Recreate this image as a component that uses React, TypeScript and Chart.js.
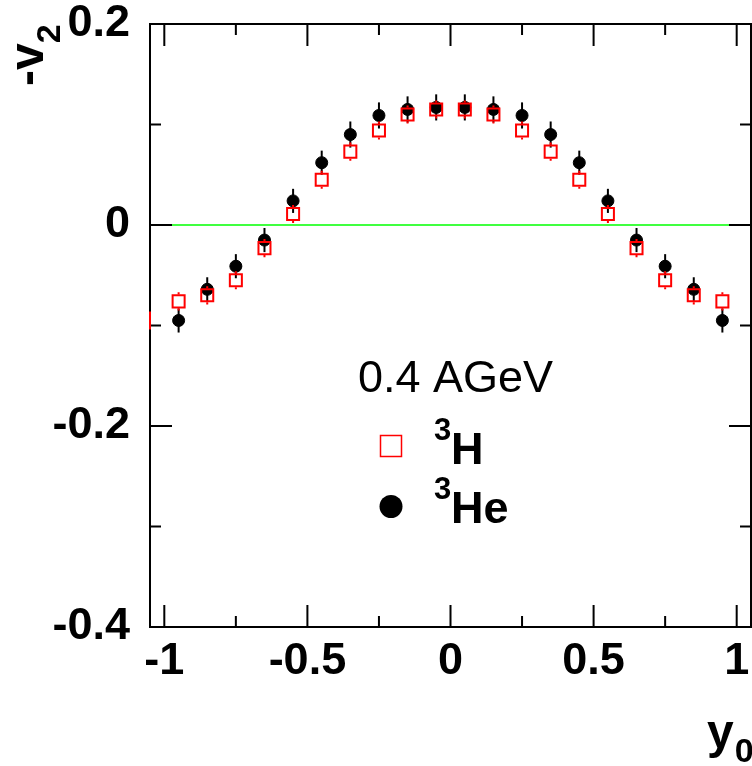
import React, { useEffect, useRef } from 'react';
import { Chart, registerables } from 'chart.js';

Chart.register(...registerables);

// ---- data ----
const rapidityH = [-1.05, -0.95, -0.85, -0.75, -0.65, -0.55, -0.45, -0.35, -0.25, -0.15, -0.05, 0.05, 0.15, 0.25, 0.35, 0.45, 0.55, 0.65, 0.75, 0.85, 0.95];
const v2H = [-0.095, -0.076, -0.070, -0.055, -0.023, 0.011, 0.045, 0.073, 0.094, 0.110, 0.115, 0.115, 0.110, 0.094, 0.073, 0.045, 0.011, -0.023, -0.055, -0.070, -0.076];
const errH = [0.009, 0.009, 0.009, 0.009, 0.009, 0.009, 0.009, 0.009, 0.009, 0.009, 0.009, 0.009, 0.009, 0.009, 0.009, 0.009, 0.009, 0.009, 0.009, 0.009, 0.009];

const rapidityHe = [-0.95, -0.85, -0.75, -0.65, -0.55, -0.45, -0.35, -0.25, -0.15, -0.05, 0.05, 0.15, 0.25, 0.35, 0.45, 0.55, 0.65, 0.75, 0.85, 0.95];
const v2He = [-0.095, -0.064, -0.041, -0.015, 0.024, 0.062, 0.090, 0.109, 0.115, 0.117, 0.117, 0.115, 0.109, 0.090, 0.062, 0.024, -0.015, -0.041, -0.064, -0.095];
const errHe = [0.012, 0.012, 0.012, 0.012, 0.012, 0.012, 0.013, 0.013, 0.013, 0.013, 0.013, 0.013, 0.013, 0.013, 0.012, 0.012, 0.012, 0.012, 0.012, 0.012];

const xMajorTicks = [-1, -0.5, 0, 0.5, 1];
const xTickLabels = ['-1', '-0.5', '0', '0.5', '1'];
const xMinorTicks = [-0.75, -0.25, 0.25, 0.75];
const yMajorTicks = [-0.4, -0.2, 0, 0.2];
const yTickLabels = ['-0.4', '-0.2', '0', '0.2'];
const yMinorTicks = [-0.3, -0.1, 0.1];

const X_MIN = -1.05;
const X_MAX = 1.05;
const Y_MIN = -0.4;
const Y_MAX = 0.2;

const energyLabel = '0.4 AGeV';
const seriesNames = ['H', 'He'];
const seriesMass = '3';
const yTitle = '-v';
const yTitleSub = '2';
const xTitle = 'y';
const xTitleSub = '0';

const FONT = '"Liberation Sans", Arial, Helvetica, sans-serif';
const RED = '#ff0000';

const errorBars = [errH, errHe];
const isEdge = (x: number) => x <= X_MIN || x >= X_MAX;

const decorPlugin = {
  id: 'decor',
  beforeDatasetsDraw(chart: any) {
    const { ctx, chartArea: a, scales } = chart;
    const y0 = scales.y.getPixelForValue(0);
    ctx.save();
    ctx.strokeStyle = '#00ff00';
    ctx.lineWidth = 1.5;
    ctx.beginPath();
    ctx.moveTo(a.left, y0);
    ctx.lineTo(a.right, y0);
    ctx.stroke();
    ctx.restore();
  },
  beforeDatasetDraw(chart: any, args: any) {
    const { ctx, chartArea: a, scales } = chart;
    const i = args.index;
    const ds = chart.data.datasets[i];
    const errs = errorBars[i];
    const meta = chart.getDatasetMeta(i);
    ctx.save();
    ctx.beginPath();
    ctx.rect(a.left, a.top, a.right - a.left, a.bottom - a.top);
    ctx.clip();
    ctx.strokeStyle = i === 0 ? RED : '#000';
    ctx.lineWidth = 2;
    const gap = i === 0 ? 7 : 0;
    meta.data.forEach((el: any, k: number) => {
      if (isEdge(ds.data[k].x)) return;
      const v = ds.data[k].y;
      const px = el.x;
      const py = el.y;
      const top = scales.y.getPixelForValue(v + errs[k]);
      const bot = scales.y.getPixelForValue(v - errs[k]);
      ctx.beginPath();
      if (gap > 0) {
        ctx.moveTo(px, top);
        ctx.lineTo(px, py - gap);
        ctx.moveTo(px, py + gap);
        ctx.lineTo(px, bot);
      } else {
        ctx.moveTo(px, top);
        ctx.lineTo(px, bot);
      }
      ctx.stroke();
    });
    ctx.restore();
  },
  afterDraw(chart: any) {
    const { ctx, chartArea: a, scales } = chart;
    const xs = scales.x;
    const ys = scales.y;
    ctx.save();
    // frame
    ctx.strokeStyle = '#000';
    ctx.lineWidth = 2;
    ctx.strokeRect(a.left, a.top, a.right - a.left, a.bottom - a.top);
    // ticks (inward, all sides)
    const MAJ = 22;
    const MIN = 11;
    ctx.lineWidth = 2;
    ctx.beginPath();
    const xt = (v: number, len: number) => {
      const p = xs.getPixelForValue(v);
      ctx.moveTo(p, a.bottom);
      ctx.lineTo(p, a.bottom - len);
      ctx.moveTo(p, a.top);
      ctx.lineTo(p, a.top + len);
    };
    const yt = (v: number, len: number) => {
      const p = ys.getPixelForValue(v);
      ctx.moveTo(a.left, p);
      ctx.lineTo(a.left + len, p);
      ctx.moveTo(a.right, p);
      ctx.lineTo(a.right - len, p);
    };
    xMajorTicks.forEach((v) => xt(v, MAJ));
    xMinorTicks.forEach((v) => xt(v, MIN));
    yMajorTicks.forEach((v) => yt(v, MAJ));
    yMinorTicks.forEach((v) => yt(v, MIN));
    ctx.stroke();

    // error bars of points sitting on the frame edge (drawn over the frame)
    chart.data.datasets.forEach((ds: any, i: number) => {
      const errs = errorBars[i];
      ctx.strokeStyle = i === 0 ? RED : '#000';
      ctx.lineWidth = 2;
      ds.data.forEach((p: any, k: number) => {
        if (!isEdge(p.x)) return;
        const px = p.x <= X_MIN ? a.left : a.right;
        ctx.beginPath();
        ctx.moveTo(px, ys.getPixelForValue(p.y + errs[k]));
        ctx.lineTo(px, ys.getPixelForValue(p.y - errs[k]));
        ctx.stroke();
      });
    });

    ctx.fillStyle = '#000';
    ctx.textBaseline = 'alphabetic';
    ctx.textAlign = 'left';

    // y title, rotated
    ctx.save();
    ctx.translate(43, 86);
    ctx.rotate(-Math.PI / 2);
    ctx.font = `bold 48px ${FONT}`;
    ctx.fillText(yTitle, 0, 0);
    const w = ctx.measureText(yTitle).width;
    ctx.font = `bold 34px ${FONT}`;
    ctx.fillText(yTitleSub, w, 17);
    ctx.restore();

    // x title
    ctx.font = `bold 48px ${FONT}`;
    ctx.fillText(xTitle, 707, 748);
    const wx = ctx.measureText(xTitle).width;
    ctx.font = `bold 34px ${FONT}`;
    ctx.fillText(xTitleSub, 707 + wx + 1, 762);

    // energy label
    ctx.font = `45px ${FONT}`;
    ctx.fillText(energyLabel, 358, 392);

    // legend markers
    ctx.strokeStyle = RED;
    ctx.lineWidth = 1.5;
    ctx.strokeRect(380.5, 435.5, 21, 21);
    ctx.fillStyle = '#000';
    ctx.beginPath();
    ctx.arc(391, 506.5, 11.5, 0, Math.PI * 2);
    ctx.fill();

    // legend text
    const rows = [464, 523];
    seriesNames.forEach((name, k) => {
      const base = rows[k];
      ctx.font = `bold 31px ${FONT}`;
      ctx.fillText(seriesMass, 434, base - 24);
      ctx.font = `bold 45px ${FONT}`;
      ctx.fillText(name, 451, base);
    });
    ctx.restore();
  },
};

const noScalePadding = (s: any) => {
  s.paddingTop = 0;
  s.paddingBottom = 0;
  s.paddingLeft = 0;
  s.paddingRight = 0;
};

export default function App() {
  const ref = useRef<HTMLCanvasElement | null>(null);

  useEffect(() => {
    if (!ref.current) return;
    const hideOutside = (size: number) => (c: any) => {
      const raw = c.raw;
      if (raw && isEdge(raw.x)) return 0;
      return size;
    };
    const chart = new Chart(ref.current, {
      type: 'scatter',
      data: {
        datasets: [
          {
            label: '3H',
            data: rapidityH.map((x, i) => ({ x, y: v2H[i] })),
            pointStyle: 'rect',
            pointRadius: hideOutside(8.5),
            pointBackgroundColor: 'rgba(0,0,0,0)',
            pointBorderColor: RED,
            pointBorderWidth: 2,
            showLine: false,
            clip: 0,
          },
          {
            label: '3He',
            data: rapidityHe.map((x, i) => ({ x, y: v2He[i] })),
            pointStyle: 'circle',
            pointRadius: 6,
            pointBackgroundColor: '#000',
            pointBorderColor: '#000',
            pointBorderWidth: 1,
            showLine: false,
            clip: 0,
          },
        ],
      } as any,
      options: {
        responsive: false,
        animation: false,
        events: [],
        layout: { autoPadding: false, padding: { top: 24, right: 1, left: 0, bottom: 0 } },
        plugins: {
          legend: { display: false },
          tooltip: { enabled: false },
          title: { display: false },
        },
        scales: {
          x: {
            type: 'linear',
            min: X_MIN,
            max: X_MAX,
            grid: { display: false, drawTicks: false },
            border: { display: false },
            afterBuildTicks: (s: any) => {
              s.ticks = xMajorTicks.map((v) => ({ value: v }));
            },
            afterFit: (s: any) => {
              s.height = 139;
              noScalePadding(s);
            },
            ticks: {
              padding: 8,
              color: '#000',
              autoSkip: false,
              maxRotation: 0,
              font: { family: FONT, size: 45, weight: 'bold' },
              callback: (_v: any, i: number) => xTickLabels[i],
            },
          },
          y: {
            type: 'linear',
            min: Y_MIN,
            max: Y_MAX,
            grid: { display: false, drawTicks: false },
            border: { display: false },
            afterBuildTicks: (s: any) => {
              s.ticks = yMajorTicks.map((v) => ({ value: v }));
            },
            afterFit: (s: any) => {
              s.width = 150;
              noScalePadding(s);
            },
            ticks: {
              padding: 20,
              color: '#000',
              autoSkip: false,
              font: { family: FONT, size: 45, weight: 'bold' },
              callback: (_v: any, i: number) => yTickLabels[i],
            },
          },
        },
      } as any,
      plugins: [decorPlugin],
    });
    return () => chart.destroy();
  }, []);

  return (
    <div style={{ position: 'absolute', left: 0, top: 0, width: 752, height: 766, background: '#fff' }}>
      <canvas ref={ref} width={752} height={766} style={{ display: 'block' }} />
    </div>
  );
}
